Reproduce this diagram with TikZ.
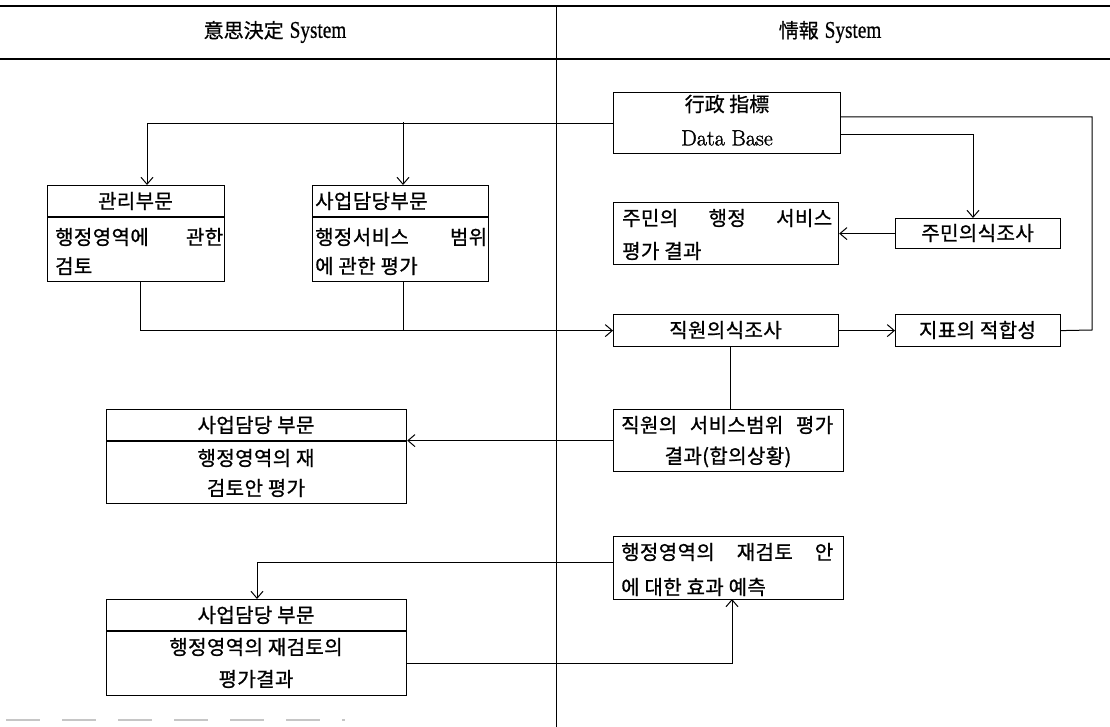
\documentclass[tikz,border=0pt]{standalone}
\usepackage{fontspec}
\usepackage{graphicx}
\newfontfamily\kr[LetterSpace=2,FakeBold=1]{Noto Sans CJK KR}
\newfontfamily\krh[FakeBold=0.8]{Noto Sans CJK KR}
\newfontfamily\tms[FakeBold=0.8]{Liberation Serif}
\newfontfamily\lmr[FakeBold=1.4]{Latin Modern Roman}
\usetikzlibrary{arrows.meta,calc}
\begin{document}
\begin{tikzpicture}[x=1pt,y=-1pt,
  box/.style={draw,line width=1.2pt,rectangle,inner sep=0pt,anchor=north west},
  conn/.style={line width=1pt},
  arr/.style={conn,-{Straight Barb[length=7pt,width=12pt]}},
  txt/.style={inner sep=0pt,font=\kr\fontsize{20}{24}\selectfont},
  hdr/.style={inner sep=0pt,font=\fontsize{20}{24}\selectfont},
]
\useasboundingbox (0,0) rectangle (1110,727);

% header and divider
\coordinate (tl) at (0,6); \coordinate (tr) at (1110,6);
\coordinate (ml) at (0,59); \coordinate (mr) at (1110,59);
\coordinate (vt) at (556,6); \coordinate (vb) at (556,727);
\draw[line width=1.2pt] (tl) -- (tr);
\draw[line width=1.2pt] (ml) -- (mr);
\draw[line width=0.9pt] (vt) -- (vb);
\node[hdr] (h1) at (275,32) {{\krh 意思決定} \scalebox{0.8}[1]{\tms\fontsize{24}{26}\selectfont System}};
\node[hdr] (h2) at (830,32) {{\krh 情報} \scalebox{0.8}[1]{\tms\fontsize{24}{26}\selectfont System}};

% Data Base
\node[box,minimum width=227pt,minimum height=61pt] (db) at (613,92) {};
\node[inner sep=0pt,font=\krh\fontsize{20}{24}\selectfont] (db1) at (727,104) {行政 指標};
\node[inner sep=0pt,font=\lmr\fontsize{22}{26}\selectfont] (db2) at (727,138) {Data Base};

% 관리부문
\node[box,minimum width=177pt,minimum height=96pt] (gw) at (47,185) {};
\draw[line width=1.2pt] ($(gw.north west)+(0,32)$) -- ($(gw.north east)+(0,32)$);
\node[txt] (g0) at (135.5,201) {관리부문};
\node[txt,anchor=west] (g1) at (55,237) {\makebox[168pt][l]{행정영역에\hfill 관한}};
\node[txt,anchor=west] (g2) at (55,266) {검토};

% 사업담당부문
\node[box,minimum width=176pt,minimum height=96pt] (s1) at (312,185) {};
\draw[line width=1.2pt] ($(s1.north west)+(0,32)$) -- ($(s1.north east)+(0,32)$);
\node[txt,anchor=west] (s10) at (315,201) {사업담당부문};
\node[txt,anchor=west] (s11) at (315,237) {\makebox[172pt][l]{행정서비스\hfill 범위}};
\node[txt,anchor=west] (s12) at (315,266) {에 관한 평가};

% 주민의 행정 서비스 평가 결과
\node[box,minimum width=225pt,minimum height=62pt] (jres) at (613,202) {};
\node[txt,anchor=west] (jr1) at (622,218) {\makebox[210pt][l]{주민의\hfill 행정\hfill 서비스}};
\node[txt,anchor=west] (jr2) at (622,251) {평가 결과};

% 주민의식조사
\node[box,minimum width=165pt,minimum height=30pt] (jsu) at (895,218) {};
\node[txt] (jsut) at (977.5,233) {주민의식조사};

% 직원의식조사
\node[box,minimum width=225pt,minimum height=32pt] (jsv) at (613,314) {};
\node[txt] (jsvt) at (725.5,330) {직원의식조사};

% 지표의 적합성
\node[box,minimum width=165pt,minimum height=32pt] (jp) at (895,314) {};
\node[txt] (jpt) at (977.5,330) {지표의 적합성};

% 직원의 서비스범위 평가 결과
\node[box,minimum width=230pt,minimum height=62pt] (jkr) at (613,409) {};
\node[txt,anchor=west] (jk1) at (621,425) {\makebox[212pt][l]{직원의\hfill 서비스범위\hfill 평가}};
\node[txt] (jk2) at (728,457) {결과(합의상황)};

% 사업담당 부문 (2)
\node[box,minimum width=300pt,minimum height=94pt] (s2) at (106,409) {};
\draw[line width=1.2pt] ($(s2.north west)+(0,32)$) -- ($(s2.north east)+(0,32)$);
\node[txt] (s20) at (256,425) {사업담당 부문};
\node[txt] (s21) at (256,458) {행정영역의 재};
\node[txt] (s22) at (256,488) {검토안 평가};

% 행정영역의 재검토 안에 대한 효과 예측
\node[box,minimum width=230pt,minimum height=63pt] (rv) at (613,536) {};
\node[txt,anchor=west] (rv1) at (621,552) {\makebox[212pt][l]{행정영역의\hfill 재검토\hfill 안}};
\node[txt,anchor=west] (rv2) at (621,587) {에 대한 효과 예측};

% 사업담당 부문 (3)
\node[box,minimum width=300pt,minimum height=96pt] (s3) at (106,599) {};
\draw[line width=1.2pt] ($(s3.north west)+(0,32)$) -- ($(s3.north east)+(0,32)$);
\node[txt] (s30) at (256,615) {사업담당 부문};
\node[txt] (s31) at (256,647) {행정영역의 재검토의};
\node[txt] (s32) at (256,679) {평가결과};

% connectors
\coordinate (gin) at (147,185);
\coordinate (s1in) at (403,185);
\coordinate (j1) at (403,122.5);
\draw[arr] (db.west) -| (gin);
\draw[arr] (j1) -- (s1in);

\coordinate (gout) at (140,281);
\coordinate (s1out) at (403,281);
\coordinate (s1j) at (403,330);
\draw[arr] (gout) |- (jsv.west);
\draw[conn] (s1out) -- (s1j);

\draw[arr] (jsv.east) -- (jp.west);
\coordinate (rc1) at (1092,330);
\coordinate (rc2) at (1092,117);
\coordinate (dbr1) at (840,117);
\draw[conn] (jp.east) -- (rc1) -- (rc2) -- (dbr1);

\coordinate (dbr2) at (840,135);
\coordinate (jin) at (973,218);
\draw[arr] (dbr2) -| (jin);

\draw[arr] (jsu.west) -- (jres.east |- jsu.west);

\coordinate (jvout) at (730,346);
\coordinate (jkin) at (730,409);
\draw[conn] (jvout) -- (jkin);

\draw[arr] (jkr.west) -- (jkr.west -| s2.east);

\coordinate (rvl) at (613,562);
\coordinate (s3in) at (257,599);
\draw[arr] (rvl) -| (s3in);

\coordinate (s3out) at (406,663);
\coordinate (rvin) at (732,599);
\draw[arr] (s3out) -| (rvin);

% faint scan marks at bottom
\coordinate (b1) at (6,720);
\coordinate (b2) at (345,720);
\draw[gray!45,line width=2.5pt,dash pattern=on 34pt off 22pt] (b1) -- (b2);
\end{tikzpicture}
\end{document}
